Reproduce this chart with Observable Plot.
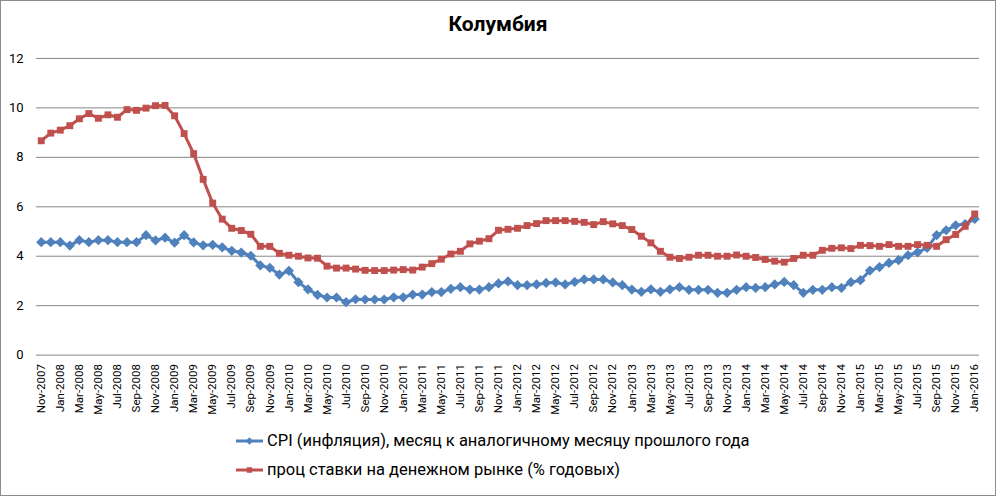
<!DOCTYPE html>
<html>
<head>
<meta charset="utf-8">
<script src="https://cdn.jsdelivr.net/npm/d3@7"></script>
<script src="https://cdn.jsdelivr.net/npm/@observablehq/plot@0.6"></script>
<style>
  html, body { margin: 0; padding: 0; background: #fff; }
  #frame { position: relative; width: 996px; height: 496px; box-sizing: border-box; border: 1px solid #8c8c8c; font-family: Roboto, "Liberation Sans", sans-serif; overflow: hidden; }
  #title { position: absolute; left: 0; width: 100%; top: 11px; text-align: center; font-weight: bold; font-size: 21px; color: #000; }
  #chart { position: absolute; left: -1px; top: -1px; }
  .leg { position: absolute; left: 235px; font-size: 16.5px; color: #000; display: flex; align-items: center; white-space: nowrap; }
  .leg svg { margin-right: 3px; }
</style>
</head>
<body>
<div id="frame">
  <div id="title">Колумбия</div>
  <div id="chart"></div>
  <div class="leg" id="leg1" style="top:430px"></div>
  <div class="leg" id="leg2" style="top:459px"></div>
</div>
<script>
const months = [
  "Nov-2007","Dec-2007",
  "Jan-2008","Feb-2008","Mar-2008","Apr-2008","May-2008","Jun-2008","Jul-2008","Aug-2008","Sep-2008","Oct-2008","Nov-2008","Dec-2008",
  "Jan-2009","Feb-2009","Mar-2009","Apr-2009","May-2009","Jun-2009","Jul-2009","Aug-2009","Sep-2009","Oct-2009","Nov-2009","Dec-2009",
  "Jan-2010","Feb-2010","Mar-2010","Apr-2010","May-2010","Jun-2010","Jul-2010","Aug-2010","Sep-2010","Oct-2010","Nov-2010","Dec-2010",
  "Jan-2011","Feb-2011","Mar-2011","Apr-2011","May-2011","Jun-2011","Jul-2011","Aug-2011","Sep-2011","Oct-2011","Nov-2011","Dec-2011",
  "Jan-2012","Feb-2012","Mar-2012","Apr-2012","May-2012","Jun-2012","Jul-2012","Aug-2012","Sep-2012","Oct-2012","Nov-2012","Dec-2012",
  "Jan-2013","Feb-2013","Mar-2013","Apr-2013","May-2013","Jun-2013","Jul-2013","Aug-2013","Sep-2013","Oct-2013","Nov-2013","Dec-2013",
  "Jan-2014","Feb-2014","Mar-2014","Apr-2014","May-2014","Jun-2014","Jul-2014","Aug-2014","Sep-2014","Oct-2014","Nov-2014","Dec-2014",
  "Jan-2015","Feb-2015","Mar-2015","Apr-2015","May-2015","Jun-2015","Jul-2015","Aug-2015","Sep-2015","Oct-2015","Nov-2015","Dec-2015",
  "Jan-2016"
];
const tickLabels = [
  "Nov-2007","Jan-2008","Mar-2008","May-2008","Jul-2008","Sep-2008","Nov-2008",
  "Jan-2009","Mar-2009","May-2009","Jul-2009","Sep-2009","Nov-2009",
  "Jan-2010","Mar-2010","May-2010","Jul-2010","Sep-2010","Nov-2010",
  "Jan-2011","Mar-2011","May-2011","Jul-2011","Sep-2011","Nov-2011",
  "Jan-2012","Mar-2012","May-2012","Jul-2012","Sep-2012","Nov-2012",
  "Jan-2013","Mar-2013","May-2013","Jul-2013","Sep-2013","Nov-2013",
  "Jan-2014","Mar-2014","May-2014","Jul-2014","Sep-2014","Nov-2014",
  "Jan-2015","Mar-2015","May-2015","Jul-2015","Sep-2015","Nov-2015",
  "Jan-2016"
];
const yTicks = [0, 2, 4, 6, 8, 10, 12];
const cpi = [
  4.57, 4.57,
  4.57, 4.43, 4.65, 4.57, 4.65, 4.65, 4.57, 4.57, 4.57, 4.85, 4.64, 4.75,
  4.55, 4.85, 4.56, 4.44, 4.46, 4.36, 4.22, 4.15, 4.02, 3.63, 3.53, 3.26,
  3.41, 2.95, 2.66, 2.44, 2.33, 2.33, 2.14, 2.26, 2.25, 2.25, 2.25, 2.34,
  2.34, 2.45, 2.45, 2.55, 2.55, 2.68, 2.75, 2.65, 2.65, 2.75, 2.90, 2.98,
  2.83, 2.83, 2.86, 2.92, 2.94, 2.86, 2.96, 3.06, 3.06, 3.06, 2.94, 2.83,
  2.65, 2.56, 2.66, 2.56, 2.66, 2.75, 2.64, 2.64, 2.64, 2.52, 2.52, 2.64,
  2.75, 2.72, 2.75, 2.86, 2.96, 2.83, 2.52, 2.64, 2.64, 2.75, 2.72, 2.95,
  3.03, 3.42, 3.56, 3.73, 3.84, 4.04, 4.16, 4.34, 4.85, 5.05, 5.25, 5.30,
  5.51
];
const rate = [
  8.67, 8.98,
  9.10, 9.28, 9.56, 9.77, 9.58, 9.72, 9.62, 9.93, 9.90, 9.99, 10.09, 10.10,
  9.68, 8.96, 8.15, 7.11, 6.15, 5.50, 5.13, 5.04, 4.89, 4.40, 4.40, 4.12,
  4.04, 4.00, 3.93, 3.92, 3.60, 3.52, 3.52, 3.48, 3.43, 3.42, 3.42, 3.44,
  3.46, 3.44, 3.56, 3.70, 3.88, 4.09, 4.20, 4.50, 4.61, 4.71, 5.05, 5.09,
  5.13, 5.24, 5.32, 5.44, 5.44, 5.44, 5.41, 5.37, 5.28, 5.40, 5.31, 5.24,
  5.08, 4.81, 4.54, 4.20, 3.96, 3.91, 3.96, 4.04, 4.04, 4.00, 4.00, 4.05,
  4.00, 3.95, 3.87, 3.80, 3.76, 3.91, 4.04, 4.04, 4.24, 4.32, 4.34, 4.31,
  4.44, 4.43, 4.40, 4.47, 4.40, 4.40, 4.47, 4.44, 4.40, 4.67, 4.88, 5.21,
  5.71
];
const seriesNames = [
  "CPI (инфляция), месяц к аналогичному месяцу прошлого года",
  "проц ставки на денежном рынке (% годовых)"
];
const colors = ["#4F81BD", "#C0504D"];

const cpiData = months.map((m, i) => ({m, v: cpi[i]}));
const rateData = months.map((m, i) => ({m, v: rate[i]}));

const chart = Plot.plot({
  width: 996,
  height: 436,
  marginTop: 58,
  marginBottom: 81,
  marginLeft: 36,
  marginRight: 16,
  style: {fontFamily: "Roboto, 'Liberation Sans', sans-serif", color: "#000", background: "transparent"},
  x: {type: "point", domain: months, padding: 0.5},
  y: {domain: [0, 12]},
  marks: [
    Plot.gridY(yTicks, {stroke: "#868686", strokeOpacity: 1, strokeWidth: 1}),
    Plot.axisY(yTicks, {tickSize: 0, tickPadding: 13, fontSize: 13, label: null}),
    Plot.axisX(tickLabels, {tickSize: 0, tickPadding: 9, tickRotate: -90, fontSize: 11.5, label: null}),
    Plot.line(cpiData, {x: "m", y: "v", stroke: colors[0], strokeWidth: 3}),
    Plot.dot(cpiData, {x: "m", y: "v", symbol: "diamond2", r: 4.6, fill: colors[0], stroke: "none"}),
    Plot.line(rateData, {x: "m", y: "v", stroke: colors[1], strokeWidth: 3}),
    Plot.dot(rateData, {x: "m", y: "v", symbol: "square", r: 3.9, fill: colors[1], stroke: "none"})
  ]
});
document.getElementById("chart").appendChild(chart);

function swatch(color, symbol) {
  const ns = "http://www.w3.org/2000/svg";
  const s = document.createElementNS(ns, "svg");
  s.setAttribute("width", 28); s.setAttribute("height", 12);
  const l = document.createElementNS(ns, "line");
  l.setAttribute("x1", 0); l.setAttribute("x2", 27); l.setAttribute("y1", 6); l.setAttribute("y2", 6);
  l.setAttribute("stroke", color); l.setAttribute("stroke-width", 3);
  s.appendChild(l);
  const p = document.createElementNS(ns, "path");
  p.setAttribute("d", d3.symbol(symbol, symbol === d3.symbolSquare ? 30 : 36)());
  p.setAttribute("transform", "translate(13.5,6)");
  p.setAttribute("fill", color);
  s.appendChild(p);
  return s;
}
const l1 = document.getElementById("leg1");
l1.appendChild(swatch(colors[0], d3.symbolDiamond2));
l1.appendChild(document.createTextNode(seriesNames[0]));
const l2 = document.getElementById("leg2");
l2.appendChild(swatch(colors[1], d3.symbolSquare));
l2.appendChild(document.createTextNode(seriesNames[1]));
</script>
</body>
</html>
